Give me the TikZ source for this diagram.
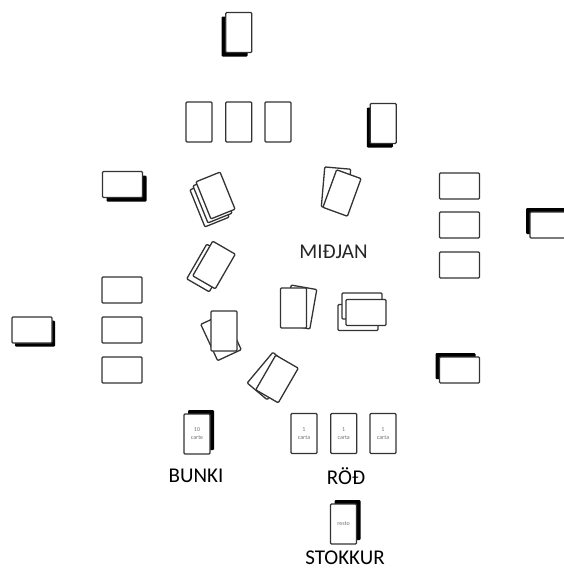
\documentclass[tikz,border=0pt]{standalone}
\usepackage{fontspec}
\setmainfont{Carlito}
\usepackage{tikz}
\usetikzlibrary{shadows}

\tikzset{
  card/.style={draw=black!80, line width=1.3pt, fill=white, rounded corners=1pt,
    inner sep=0pt, minimum width=26pt, minimum height=40pt},
  lcard/.style={card, minimum width=40pt, minimum height=26pt},
  deck/.style 2 args={drop shadow={shadow xshift=#1, shadow yshift=#2, opacity=1, fill=black}},
  peq/.style={font=\fontsize{6}{8}\selectfont, text=black!55, align=center},
  rotulo/.style={font=\fontsize{21}{25}\selectfont, anchor=base}
}

\begin{document}
\begin{tikzpicture}[x=1pt, y=-1pt]
\clip (0,0) rectangle (564,568);
\fill[white] (0,0) rectangle (564,568);
% Mazos de los jugadores
\node[card, deck={-4pt}{-4pt}] (top) at (238.7,32.5) {};
\node[card, deck={-3.5pt}{-4pt}] (topr) at (383.3,123.5) {};
\node[lcard, deck={4pt}{-4pt}] (left) at (122.5,184.5) {};
\node[lcard, deck={3pt}{-3.5pt}] (farl) at (32,330) {};
\node[lcard, deck={-4pt}{4pt}] (farr) at (550,225) {};
\node[lcard, deck={-4pt}{4pt}] (botr) at (459.5,370) {};
% Filas
\foreach \x [count=\i] in {199,238.7,278}
  \node[card] (t\i) at (\x,122) {};
\foreach \y [count=\i] in {290,330,370}
  \node[lcard] (l\i) at (122,\y) {};
\foreach \y [count=\i] in {186,225,265}
  \node[lcard] (r\i) at (459.5,\y) {};
% Centro
\node[card, rotate=22] (c1a) at (209.5,203.5) {};
\node[card, rotate=22] (c1b) at (212.5,199.5) {};
\node[card, rotate=22] (c1c) at (215.5,195.5) {};
\node[card, rotate=-5] (c2a) at (336,188) {};
\node[card, rotate=-20] (c2b) at (342,193) {};
\node[card, rotate=-30] (c3a) at (208,268) {};
\node[card, rotate=-30] (c3b) at (214,265) {};
\node[card, rotate=25] (c4a) at (221,337) {};
\node[card] (c4b) at (224,331) {};
\node[card, rotate=-10] (c5a) at (300.5,307) {};
\node[card] (c5b) at (293.5,308) {};
\node[lcard] (c6a) at (358,317.5) {};
\node[lcard] (c6b) at (362,306) {};
\node[lcard] (c6c) at (366,312.5) {};
\node[card, rotate=-40] (c7a) at (270,376) {};
\node[card, rotate=-30] (c7b) at (277,379) {};
% Jugador
\node[card, deck={4pt}{4pt}, peq] (bunki) at (197,434) {10\\carte};
\foreach \x [count=\i] in {304,343.7,383}
  \node[card, peq] (rod\i) at (\x,433.5) {1\\carta};
\node[card, deck={4pt}{4pt}, peq] (stokk) at (343.5,524) {resto};
% Etiquetas
\node[rotulo, text=black!85] (midjan) at (333.5,258) {MIÐJAN};
\node[rotulo] (lbunki) at (196,482) {BUNKI};
\node[rotulo] (lrod) at (346,484) {RÖÐ};
\node[rotulo] (lstokk) at (345,564) {STOKKUR};
\end{tikzpicture}
\end{document}
